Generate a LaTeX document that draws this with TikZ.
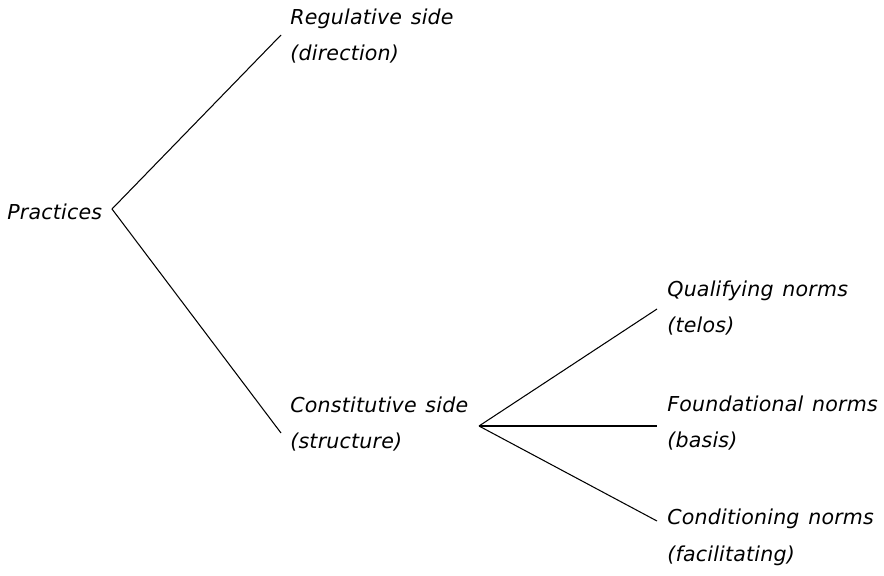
\documentclass[tikz,border=0pt]{standalone}
\usepackage{fontspec}
\setmainfont[WordSpace=1.3, LetterSpace=1.0]{DejaVu Sans}
\usepackage{tikz}

\tikzset{
  lbl/.style={inner sep=0pt, align=left, anchor=north west,
    font=\fontsize{11.7}{20.5}\selectfont\itshape},
  br/.style={line width=0.6pt}
}

\begin{document}
\begin{tikzpicture}[x=0.02cm, y=-0.02cm]
\useasboundingbox (0,0) rectangle (884,575);

\node[lbl, anchor=base west] (prac) at (7,219) {Practices};
\node[lbl] (reg) at (290,8.5) {Regulative side\\(direction)};
\node[lbl] (con) at (290,397) {Constitutive side\\(structure)};
\node[lbl] (qual) at (667,281) {Qualifying norms\\(telos)};
\node[lbl] (found) at (667,396) {Foundational norms\\(basis)};
\node[lbl] (cond) at (667,509) {Conditioning norms\\(facilitating)};

\coordinate (v1) at (112,209);
\coordinate (v2) at (281,35);
\coordinate (v3) at (281,433);
\coordinate (v4) at (479,426);
\coordinate (v5) at (657,309);
\coordinate (v6) at (657,426);
\coordinate (v7) at (657,521);

\draw[br] (v2) -- (v1) -- (v3);
\draw[br] (v4) -- (v5);
\draw[br] (v4) -- (v6);
\draw[br] (v4) -- (v7);
\end{tikzpicture}
\end{document}
